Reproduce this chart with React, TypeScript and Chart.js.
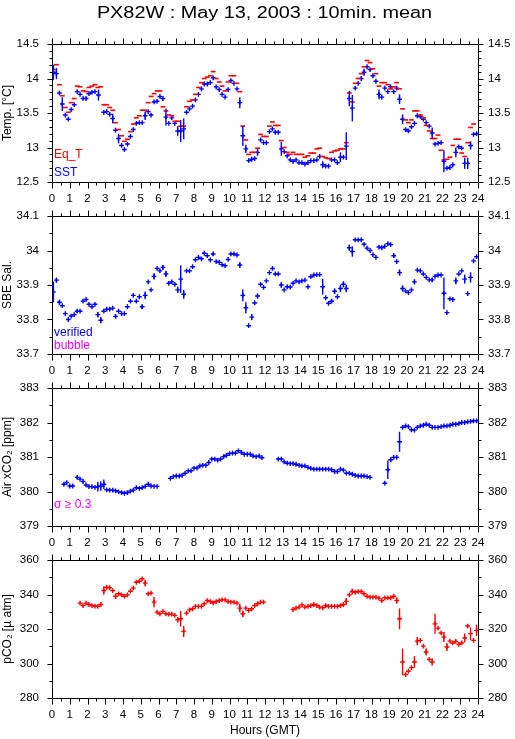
import React, { useEffect, useRef } from 'react';
import { Chart, registerables } from 'chart.js';

Chart.register(...registerables);

const FONT = "'Liberation Sans', Arial, Helvetica, sans-serif";
const RED = '#ff0000';
const BLUE = '#0000ff';
const MAGENTA = '#ff00ff';

const pageTitle = 'PX82W : May 13, 2003 : 10min. mean';
const xTitle = 'Hours (GMT)';
const hourTicks = [0, 1, 2, 3, 4, 5, 6, 7, 8, 9, 10, 11, 12, 13, 14, 15, 16, 17, 18, 19, 20, 21, 22, 23, 24];

const tempTicks = [12.5, 13, 13.5, 14, 14.5];
const salTicks = [33.7, 33.8, 33.9, 34, 34.1];
const xco2Ticks = [379, 380, 381, 382, 383];
const pco2Ticks = [280, 300, 320, 340, 360];

// [hour, value]
const eqT = [
  [0.08, 14.13], [0.25, 14.2], [0.42, 13.91], [0.58, 13.75], [0.75, 13.58], [0.92, 13.51], [1.08, 13.65], [1.25, 13.71],
  [1.42, 13.89], [1.58, 13.88], [1.75, 13.82], [1.92, 13.81], [2.08, 13.87], [2.25, 13.89], [2.42, 13.91], [2.58, 13.87],
  [2.75, 13.88], [2.92, 13.62], [3.08, 13.62], [3.25, 13.58], [3.42, 13.54], [3.58, 13.36], [3.75, 13.26], [3.92, 13.17],
  [4.08, 13.09], [4.25, 13.12], [4.42, 13.23], [4.58, 13.34], [4.75, 13.43], [4.92, 13.46], [5.08, 13.54], [5.25, 13.54],
  [5.42, 13.65], [5.58, 13.74], [5.75, 13.78], [5.92, 13.82], [6.08, 13.82], [6.25, 13.59], [6.42, 13.53], [6.58, 13.47],
  [6.75, 13.46], [6.92, 13.38], [7.08, 13.38], [7.25, 13.31], [7.42, 13.31], [7.58, 13.59], [7.75, 13.67], [7.92, 13.69],
  [8.08, 13.77], [8.25, 13.87], [8.42, 13.94], [8.58, 14.0], [8.75, 14.02], [8.92, 14.04], [9.08, 14.1], [9.25, 14.0],
  [9.42, 13.95], [9.58, 13.89], [9.75, 13.82], [9.92, 13.95], [10.08, 14.04], [10.25, 14.04], [10.42, 13.93], [10.58, 13.81],
  [10.75, 13.31], [10.92, 13.11], [11.08, 12.9], [11.25, 12.93], [11.42, 12.93], [11.58, 12.99], [11.75, 13.19], [11.92, 13.16],
  [12.08, 13.16], [12.25, 13.31], [12.42, 13.37], [12.58, 13.32], [12.75, 13.32], [12.92, 13.1], [13.08, 13.0], [13.25, 12.93],
  [13.42, 12.9], [13.58, 12.93], [13.75, 12.9], [13.92, 12.9], [14.08, 12.9], [14.25, 12.86], [14.42, 12.88], [14.58, 12.92],
  [14.75, 12.92], [14.92, 12.98], [15.08, 12.99], [15.25, 12.87], [15.42, 12.85], [15.58, 12.84], [15.75, 12.93], [15.92, 12.95],
  [16.08, 12.96], [16.25, 12.98], [16.42, 12.98], [16.58, 13.07], [16.75, 13.79], [16.92, 13.66], [17.08, 13.93], [17.25, 14.0],
  [17.42, 14.07], [17.58, 14.17], [17.75, 14.26], [17.92, 14.23], [18.08, 14.14], [18.25, 14.07], [18.42, 13.89], [18.58, 13.94],
  [18.75, 13.94], [18.92, 13.91], [19.08, 13.85], [19.25, 13.88], [19.42, 13.94], [19.58, 13.85], [19.75, 13.56], [19.92, 13.4],
  [20.08, 13.36], [20.25, 13.4], [20.42, 13.53], [20.58, 13.53], [20.75, 13.47], [20.92, 13.43], [21.08, 13.32], [21.25, 13.24],
  [21.42, 13.13], [21.58, 13.13], [21.75, 13.18], [21.92, 12.96], [22.08, 12.82], [22.25, 12.83], [22.42, 12.86], [22.58, 13.03],
  [22.75, 13.12], [22.92, 13.12], [23.08, 12.92], [23.25, 12.87], [23.42, 13.07], [23.58, 13.29], [23.75, 13.34],
];

// [hour, value, std]
const sst = [
  [0.08, 14.09, 0.11], [0.25, 14.07, 0.08], [0.42, 13.79, 0], [0.58, 13.63, 0.1], [0.75, 13.47, 0], [0.92, 13.41, 0],
  [1.08, 13.55, 0], [1.25, 13.62, 0], [1.42, 13.81, 0], [1.58, 13.77, 0], [1.75, 13.71, 0], [1.92, 13.71, 0],
  [2.08, 13.78, 0], [2.25, 13.8, 0], [2.42, 13.81, 0], [2.62, 13.76, 0.08], [2.92, 13.51, 0], [3.08, 13.52, 0],
  [3.25, 13.48, 0], [3.42, 13.42, 0.07], [3.58, 13.25, 0], [3.75, 13.13, 0.07], [3.92, 13.03, 0], [4.08, 12.97, 0],
  [4.25, 13.05, 0], [4.42, 13.16, 0], [4.58, 13.26, 0], [4.75, 13.35, 0], [4.92, 13.36, 0], [5.08, 13.36, 0],
  [5.25, 13.46, 0.06], [5.42, 13.52, 0], [5.58, 13.47, 0], [5.75, 13.66, 0], [5.92, 13.67, 0], [6.08, 13.74, 0],
  [6.25, 13.71, 0], [6.42, 13.44, 0.12], [6.58, 13.35, 0], [6.75, 13.43, 0], [6.92, 13.35, 0], [7.08, 13.24, 0.07],
  [7.25, 13.24, 0.16], [7.42, 13.27, 0.15], [7.58, 13.51, 0], [7.75, 13.56, 0], [7.92, 13.6, 0], [8.08, 13.69, 0],
  [8.25, 13.77, 0], [8.42, 13.85, 0], [8.58, 13.92, 0], [8.75, 13.92, 0], [8.92, 13.94, 0], [9.08, 14.01, 0],
  [9.25, 13.88, 0], [9.42, 13.84, 0], [9.58, 13.77, 0], [9.75, 13.73, 0], [9.92, 13.84, 0], [10.08, 13.97, 0],
  [10.25, 13.93, 0], [10.42, 13.85, 0], [10.58, 13.65, 0.08], [10.75, 13.17, 0.15], [10.92, 12.98, 0.06], [11.08, 12.81, 0],
  [11.25, 12.83, 0], [11.42, 12.84, 0], [11.58, 12.93, 0.05], [11.75, 13.11, 0], [11.92, 13.07, 0], [12.08, 13.07, 0],
  [12.25, 13.23, 0], [12.42, 13.27, 0], [12.58, 13.22, 0], [12.75, 13.22, 0], [12.92, 12.98, 0.1], [13.08, 12.94, 0],
  [13.25, 12.88, 0], [13.42, 12.82, 0], [13.58, 12.8, 0], [13.75, 12.82, 0], [13.92, 12.78, 0], [14.08, 12.78, 0],
  [14.25, 12.76, 0], [14.42, 12.78, 0], [14.58, 12.81, 0], [14.75, 12.81, 0], [14.92, 12.82, 0], [15.08, 12.87, 0],
  [15.25, 12.75, 0.05], [15.42, 12.73, 0], [15.58, 12.73, 0], [15.75, 12.82, 0], [15.92, 12.82, 0], [16.08, 12.78, 0],
  [16.25, 12.86, 0.07], [16.42, 12.86, 0], [16.58, 13.02, 0.2], [16.75, 13.71, 0.11], [16.92, 13.57, 0.19], [17.08, 13.86, 0],
  [17.25, 13.93, 0], [17.42, 14.0, 0], [17.58, 14.09, 0.05], [17.75, 14.17, 0], [17.92, 14.13, 0], [18.08, 14.04, 0],
  [18.25, 13.96, 0], [18.42, 13.77, 0.07], [18.58, 13.73, 0], [18.75, 13.86, 0], [18.92, 13.81, 0], [19.08, 13.88, 0],
  [19.25, 13.81, 0], [19.42, 13.86, 0], [19.58, 13.7, 0.07], [19.75, 13.41, 0.07], [19.92, 13.26, 0], [20.08, 13.24, 0],
  [20.25, 13.3, 0], [20.42, 13.35, 0], [20.58, 13.46, 0], [20.75, 13.45, 0], [20.92, 13.41, 0], [21.08, 13.36, 0],
  [21.25, 13.31, 0], [21.42, 13.21, 0.08], [21.58, 13.05, 0], [21.75, 13.06, 0], [21.92, 13.07, 0], [22.08, 12.8, 0.16],
  [22.25, 12.7, 0], [22.42, 12.71, 0], [22.58, 12.75, 0], [22.75, 12.93, 0.07], [22.92, 13.01, 0], [23.08, 12.99, 0],
  [23.25, 12.77, 0.08], [23.42, 12.77, 0.08], [23.58, 13.03, 0.06], [23.75, 13.19, 0], [23.92, 13.2, 0],
];

const salinity = [
  [0.08, 33.88, 0.03], [0.25, 33.914, 0.007], [0.42, 33.85, 0.007], [0.58, 33.84, 0], [0.75, 33.817, 0], [0.92, 33.8, 0],
  [1.08, 33.81, 0], [1.25, 33.814, 0], [1.42, 33.824, 0.005], [1.58, 33.824, 0], [1.75, 33.853, 0], [1.92, 33.858, 0],
  [2.08, 33.844, 0], [2.25, 33.837, 0], [2.42, 33.844, 0], [2.58, 33.814, 0.008], [2.75, 33.798, 0.009], [2.92, 33.824, 0],
  [3.08, 33.83, 0], [3.25, 33.83, 0], [3.42, 33.833, 0], [3.58, 33.809, 0.006], [3.75, 33.824, 0], [3.92, 33.817, 0],
  [4.08, 33.817, 0], [4.25, 33.837, 0], [4.42, 33.853, 0], [4.58, 33.87, 0], [4.75, 33.853, 0], [4.92, 33.866, 0],
  [5.08, 33.837, 0.006], [5.25, 33.87, 0.011], [5.42, 33.909, 0], [5.58, 33.886, 0], [5.75, 33.925, 0.009], [5.92, 33.948, 0],
  [6.08, 33.941, 0], [6.25, 33.951, 0.006], [6.42, 33.932, 0.009], [6.58, 33.905, 0], [6.75, 33.909, 0], [6.92, 33.902, 0],
  [7.08, 33.886, 0.009], [7.25, 33.917, 0.04], [7.42, 33.873, 0.013], [7.58, 33.941, 0], [7.75, 33.941, 0], [7.92, 33.953, 0],
  [8.08, 33.973, 0], [8.25, 33.98, 0], [8.42, 33.976, 0], [8.58, 33.992, 0], [8.75, 33.985, 0], [8.92, 33.973, 0],
  [9.08, 33.99, 0.006], [9.25, 33.968, 0], [9.42, 33.966, 0], [9.58, 33.959, 0], [9.75, 33.956, 0], [9.92, 33.974, 0],
  [10.08, 33.99, 0], [10.25, 33.99, 0], [10.42, 33.987, 0], [10.58, 33.958, 0.008], [10.75, 33.87, 0.017], [10.92, 33.834, 0.016],
  [11.08, 33.782, 0], [11.25, 33.807, 0.009], [11.42, 33.848, 0], [11.58, 33.868, 0.007], [11.75, 33.902, 0], [11.92, 33.893, 0],
  [12.08, 33.912, 0], [12.25, 33.936, 0], [12.42, 33.948, 0], [12.58, 33.932, 0], [12.75, 33.932, 0], [12.92, 33.9, 0.008],
  [13.08, 33.886, 0], [13.25, 33.895, 0], [13.42, 33.894, 0], [13.58, 33.905, 0], [13.75, 33.912, 0], [13.92, 33.909, 0],
  [14.08, 33.912, 0], [14.25, 33.914, 0], [14.42, 33.895, 0], [14.58, 33.924, 0], [14.75, 33.929, 0], [14.92, 33.93, 0],
  [15.08, 33.93, 0], [15.25, 33.895, 0.023], [15.42, 33.863, 0], [15.58, 33.847, 0], [15.75, 33.853, 0.006], [15.92, 33.882, 0.008],
  [16.08, 33.866, 0], [16.25, 33.89, 0.011], [16.42, 33.902, 0.009], [16.58, 33.89, 0.011], [16.75, 34.008, 0.009], [16.92, 33.997, 0.015],
  [17.08, 34.031, 0], [17.25, 34.031, 0], [17.42, 34.031, 0], [17.58, 34.018, 0], [17.75, 34.007, 0], [17.92, 34.0, 0],
  [18.08, 33.988, 0], [18.25, 33.98, 0], [18.42, 34.01, 0], [18.58, 34.008, 0], [18.75, 34.012, 0], [18.92, 34.02, 0],
  [19.08, 34.017, 0], [19.25, 33.985, 0.007], [19.42, 33.968, 0], [19.58, 33.936, 0.009], [19.75, 33.89, 0.009], [19.92, 33.883, 0],
  [20.08, 33.878, 0], [20.25, 33.886, 0], [20.42, 33.909, 0.007], [20.58, 33.943, 0], [20.75, 33.941, 0], [20.92, 33.932, 0],
  [21.08, 33.922, 0], [21.25, 33.915, 0], [21.42, 33.915, 0.006], [21.58, 33.925, 0], [21.75, 33.929, 0], [21.92, 33.929, 0],
  [22.08, 33.876, 0.046], [22.25, 33.82, 0], [22.42, 33.86, 0], [22.58, 33.858, 0], [22.75, 33.912, 0.01], [22.92, 33.932, 0],
  [23.08, 33.941, 0], [23.25, 33.917, 0.013], [23.42, 33.875, 0], [23.58, 33.922, 0.015], [23.75, 33.97, 0], [23.92, 33.982, 0],
];

const airXco2 = [
  [0.67, 380.21, 0], [0.83, 380.26, 0], [1.0, 380.16, 0], [1.17, 380.16, 0], [1.42, 380.41, 0.04], [1.58, 380.36, 0],
  [1.75, 380.29, 0], [1.92, 380.19, 0], [2.08, 380.14, 0], [2.25, 380.14, 0], [2.42, 380.12, 0], [2.58, 380.14, 0.14],
  [2.75, 380.16, 0.14], [2.92, 380.21, 0.14], [3.08, 380.05, 0], [3.25, 380.04, 0], [3.42, 380.04, 0], [3.58, 380.02, 0],
  [3.75, 379.99, 0], [3.92, 379.97, 0], [4.08, 379.95, 0], [4.25, 379.97, 0], [4.42, 380.01, 0], [4.58, 380.04, 0],
  [4.75, 380.11, 0], [4.92, 380.09, 0], [5.08, 380.11, 0], [5.25, 380.15, 0], [5.42, 380.21, 0], [5.58, 380.16, 0],
  [5.75, 380.15, 0], [5.92, 380.15, 0],
  [6.67, 380.38, 0], [6.83, 380.43, 0], [7.0, 380.45, 0], [7.17, 380.45, 0], [7.33, 380.47, 0], [7.5, 380.53, 0],
  [7.67, 380.6, 0], [7.83, 380.6, 0], [8.0, 380.68, 0], [8.17, 380.68, 0], [8.33, 380.74, 0], [8.5, 380.76, 0],
  [8.67, 380.76, 0], [8.83, 380.84, 0], [9.0, 380.94, 0], [9.17, 380.94, 0], [9.33, 380.91, 0], [9.5, 380.94, 0],
  [9.67, 381.01, 0], [9.83, 381.05, 0], [10.0, 381.1, 0], [10.17, 381.11, 0], [10.33, 381.11, 0], [10.5, 381.18, 0],
  [10.67, 381.13, 0], [10.83, 381.08, 0], [11.0, 381.08, 0], [11.17, 381.08, 0], [11.33, 381.03, 0], [11.5, 381.01, 0],
  [11.67, 381.03, 0], [11.83, 380.98, 0],
  [12.75, 380.94, 0], [12.92, 380.94, 0], [13.08, 380.86, 0], [13.25, 380.82, 0], [13.42, 380.81, 0], [13.58, 380.81, 0],
  [13.75, 380.79, 0], [13.92, 380.76, 0], [14.08, 380.74, 0], [14.25, 380.74, 0], [14.42, 380.7, 0], [14.58, 380.67, 0],
  [14.75, 380.65, 0], [14.92, 380.65, 0], [15.08, 380.65, 0], [15.25, 380.65, 0], [15.42, 380.65, 0], [15.58, 380.65, 0],
  [15.75, 380.63, 0], [15.92, 380.58, 0], [16.08, 380.58, 0], [16.25, 380.65, 0], [16.42, 380.62, 0], [16.58, 380.53, 0],
  [16.75, 380.53, 0], [16.92, 380.5, 0], [17.08, 380.47, 0], [17.25, 380.45, 0], [17.42, 380.45, 0], [17.58, 380.45, 0],
  [17.75, 380.43, 0], [17.92, 380.41, 0],
  [18.75, 380.24, 0], [18.92, 380.63, 0.27], [19.08, 380.92, 0.06], [19.25, 380.99, 0], [19.42, 380.99, 0], [19.58, 381.44, 0.29],
  [19.75, 381.86, 0.05], [19.92, 381.9, 0], [20.08, 381.88, 0], [20.25, 381.79, 0], [20.42, 381.78, 0], [20.58, 381.86, 0],
  [20.75, 381.9, 0], [20.92, 381.92, 0], [21.08, 381.95, 0], [21.25, 381.92, 0], [21.42, 381.86, 0], [21.58, 381.86, 0],
  [21.75, 381.86, 0], [21.92, 381.88, 0], [22.08, 381.9, 0], [22.25, 381.9, 0], [22.42, 381.92, 0], [22.58, 381.95, 0],
  [22.75, 381.95, 0], [22.92, 381.97, 0], [23.08, 382.0, 0], [23.25, 382.0, 0], [23.42, 382.02, 0], [23.58, 382.03, 0],
  [23.75, 382.05, 0], [23.92, 382.05, 0],
];

const pco2 = [
  [1.58, 335.0, 0], [1.75, 333.6, 0], [1.92, 335.0, 0], [2.08, 334.2, 0], [2.25, 333.6, 0], [2.42, 333.3, 0],
  [2.58, 333.1, 0], [2.75, 334.2, 0], [2.92, 342.3, 2.5], [3.08, 344.2, 0], [3.25, 343.9, 0], [3.42, 342.3, 0],
  [3.58, 339.0, 1.6], [3.75, 340.4, 0], [3.92, 339.8, 0], [4.08, 339.0, 0], [4.25, 339.8, 0], [4.42, 341.9, 0],
  [4.58, 343.7, 0], [4.75, 347.1, 0], [4.92, 347.7, 0], [5.08, 349.1, 0], [5.25, 346.6, 1.9], [5.42, 340.4, 0],
  [5.58, 340.8, 0], [5.75, 335.6, 3.0], [5.92, 329.8, 0], [6.08, 328.8, 0], [6.25, 330.2, 0], [6.42, 328.8, 0],
  [6.58, 328.6, 0], [6.75, 328.6, 0], [6.92, 327.9, 0], [7.08, 325.4, 1.7], [7.25, 325.9, 4.5], [7.42, 318.6, 3.2],
  [7.58, 329.2, 0], [7.75, 331.1, 0], [7.92, 331.7, 0], [8.08, 333.1, 0], [8.25, 333.1, 0], [8.42, 333.1, 0],
  [8.58, 334.6, 0], [8.75, 336.5, 0], [8.92, 335.9, 0], [9.08, 335.2, 0], [9.25, 335.9, 0], [9.42, 336.5, 0],
  [9.58, 336.9, 0], [9.75, 336.9, 0], [9.92, 335.9, 0], [10.08, 335.6, 0], [10.25, 335.6, 0], [10.42, 335.0, 0],
  [10.58, 332.1, 2.4], [10.75, 328.8, 1.9], [10.92, 332.1, 0], [11.08, 330.8, 0], [11.25, 331.7, 0], [11.42, 333.6, 0],
  [11.58, 334.6, 0], [11.75, 335.6, 0], [11.92, 335.6, 0],
  [13.58, 331.3, 0], [13.75, 332.1, 0], [13.92, 332.7, 0], [14.08, 334.0, 0], [14.25, 332.7, 0], [14.42, 333.1, 0],
  [14.58, 333.6, 0], [14.75, 334.2, 0], [14.92, 333.6, 0], [15.08, 332.7, 0], [15.25, 332.3, 0], [15.42, 333.6, 0],
  [15.58, 333.1, 0], [15.75, 333.1, 0], [15.92, 333.1, 0], [16.08, 333.1, 0], [16.25, 333.6, 0], [16.42, 334.2, 0],
  [16.58, 336.0, 1.9], [16.75, 339.8, 0], [16.92, 341.7, 1.7], [17.08, 341.3, 0], [17.25, 341.7, 0], [17.42, 341.7, 0],
  [17.58, 340.4, 0], [17.75, 339.0, 0], [17.92, 338.5, 0], [18.08, 338.5, 0], [18.25, 338.5, 0], [18.42, 337.9, 0],
  [18.58, 336.5, 0], [18.75, 338.1, 0], [18.92, 338.1, 0], [19.08, 338.1, 0], [19.25, 339.0, 0], [19.42, 336.5, 1.9],
  [19.58, 325.9, 6.0], [19.75, 300.9, 7.7], [19.92, 293.6, 0], [20.08, 295.5, 0], [20.25, 297.6, 0], [20.42, 300.9, 3.4],
  [20.58, 313.0, 2.4], [20.75, 313.4, 0], [20.92, 310.1, 0], [21.08, 306.7, 2.1], [21.25, 302.4, 0], [21.42, 300.9, 2.1],
  [21.58, 323.0, 5.8], [21.75, 320.5, 0], [21.92, 317.7, 0], [22.08, 315.3, 2.9], [22.25, 309.6, 2.3], [22.42, 313.0, 0],
  [22.58, 311.9, 0], [22.75, 312.8, 0], [22.92, 311.1, 0], [23.08, 311.9, 0], [23.25, 314.8, 2.6], [23.42, 321.7, 0],
  [23.58, 317.3, 3.6], [23.75, 313.4, 0], [23.92, 319.2, 3.3],
];

// ---- layout (pixels) ----
const W = 515;
const PLOT_LEFT = 52;
const PLOT_RIGHT = 478;
const PLOT_TOP = 44;
const PLOT_BOTTOM = 182;
const PANEL_STEP = 172;

const tickFont = { family: FONT, size: 11.5 };
const titleFont = { family: FONT, size: 12, lineHeight: 1 };

const fmt = (v: number) => String(Number(v.toFixed(2)));

const pageTitlePlugin = {
  id: 'pageTitle',
  afterDraw(chart: any, _a: any, opts: any) {
    if (!opts || !opts.text) return;
    const ctx = chart.ctx;
    ctx.save();
    ctx.font = `16px ${FONT}`;
    ctx.fillStyle = '#000';
    ctx.textAlign = 'center';
    ctx.textBaseline = 'alphabetic';
    ctx.translate(264.5, 17.5);
    ctx.scale(1.24, 1);
    ctx.fillText(opts.text, 0, 0);
    ctx.restore();
  },
};

const frameTicksPlugin = {
  id: 'frameTicks',
  afterDraw(chart: any, _a: any, opts: any) {
    const { ctx, chartArea, scales } = chart;
    const { left, right, top, bottom } = chartArea;
    const xs = scales.x;
    const ys = scales.y;
    ctx.save();
    ctx.strokeStyle = '#000';
    ctx.lineWidth = 1;
    const seg = (x1: number, y1: number, x2: number, y2: number) => {
      ctx.beginPath();
      ctx.moveTo(x1, y1);
      ctx.lineTo(x2, y2);
      ctx.stroke();
    };
    // frame
    seg(left + 0.5, top + 0.5, right + 0.5, top + 0.5);
    seg(left + 0.5, bottom + 0.5, right + 0.5, bottom + 0.5);
    seg(left + 0.5, top, left + 0.5, bottom + 1);
    seg(right + 0.5, top, right + 0.5, bottom + 1);
    // x ticks (hour major, half hour minor)
    for (let k = 0; k <= 48; k++) {
      const px = Math.round(xs.getPixelForValue(k / 2)) + 0.5;
      const L = k % 2 === 0 ? 6 : 3;
      seg(px, bottom + 0.5, px, bottom + 0.5 + L);
      seg(px, top + 0.5, px, top + 0.5 - L);
    }
    // y ticks
    const majors: number[] = opts.majors;
    const step: number = opts.minor;
    const n = Math.round((ys.max - ys.min) / step);
    for (let k = 0; k <= n; k++) {
      const v = ys.min + k * step;
      const isMajor = majors.some((m) => Math.abs(m - v) < step / 10);
      const py = Math.round(ys.getPixelForValue(v)) + 0.5;
      const L = isMajor ? 5 : 3;
      seg(left + 0.5, py, left + 0.5 - L, py);
      seg(right + 0.5, py, right + 0.5 + L, py);
    }
    ctx.restore();
  },
};

const errorBarsPlugin = {
  id: 'errorBars',
  afterDatasetsDraw(chart: any) {
    const { ctx, scales } = chart;
    const xs = scales.x;
    const ys = scales.y;
    ctx.save();
    ctx.beginPath();
    ctx.rect(chart.chartArea.left, chart.chartArea.top, chart.chartArea.right - chart.chartArea.left, chart.chartArea.bottom - chart.chartArea.top);
    ctx.clip();
    chart.data.datasets.forEach((ds: any) => {
      if (!ds.withErrors) return;
      ctx.strokeStyle = ds.pointBorderColor;
      ctx.lineWidth = ds.pointBorderWidth;
      ds.data.forEach((p: any) => {
        if (!p.e) return;
        const x = xs.getPixelForValue(p.x);
        ctx.beginPath();
        ctx.moveTo(x, ys.getPixelForValue(p.y - p.e));
        ctx.lineTo(x, ys.getPixelForValue(p.y + p.e));
        ctx.stroke();
      });
    });
    ctx.restore();
  },
};

const notesPlugin = {
  id: 'panelNotes',
  afterDraw(chart: any, _a: any, opts: any) {
    if (!opts || !opts.items) return;
    const { ctx, chartArea } = chart;
    ctx.save();
    ctx.font = `12px ${FONT}`;
    ctx.textAlign = 'left';
    ctx.textBaseline = 'alphabetic';
    opts.items.forEach((it: any) => {
      ctx.fillStyle = it.color;
      ctx.fillText(it.text, chartArea.left + 2, chartArea.top + it.dy);
    });
    ctx.restore();
  },
};

type Series = { label: string; rows: number[][]; color: string; style: 'line' | 'cross' };

interface Panel {
  yTitle: string;
  yTicks: number[];
  yMinor: number;
  series: Series[];
  notes: { text: string; color: string; dy: number }[];
}

const panels: Panel[] = [
  {
    yTitle: 'Temp. [°C]',
    yTicks: tempTicks,
    yMinor: 0.1,
    series: [
      { label: 'Eq_T', rows: eqT, color: RED, style: 'line' },
      { label: 'SST', rows: sst, color: BLUE, style: 'cross' },
    ],
    notes: [
      { text: 'Eq_T', color: RED, dy: 114 },
      { text: 'SST', color: BLUE, dy: 132 },
    ],
  },
  {
    yTitle: 'SBE Sal.',
    yTicks: salTicks,
    yMinor: 0.05,
    series: [{ label: 'verified', rows: salinity, color: BLUE, style: 'cross' }],
    notes: [
      { text: 'verified', color: BLUE, dy: 120 },
      { text: 'bubble', color: MAGENTA, dy: 133 },
    ],
  },
  {
    yTitle: 'Air xCO₂ [ppm]',
    yTicks: xco2Ticks,
    yMinor: 0.5,
    series: [{ label: 'Air xCO2', rows: airXco2, color: BLUE, style: 'cross' }],
    notes: [{ text: 'σ ≥ 0.3', color: MAGENTA, dy: 120 }],
  },
  {
    yTitle: 'pCO₂ [µ atm]',
    yTicks: pco2Ticks,
    yMinor: 10,
    series: [{ label: 'pCO2', rows: pco2, color: RED, style: 'cross' }],
    notes: [],
  },
];

function buildConfig(p: Panel, index: number, canvasH: number): any {
  const last = index === panels.length - 1;
  const yMin = p.yTicks[0];
  const yMax = p.yTicks[p.yTicks.length - 1];
  const setTicks = (vals: number[]) => (s: any) => {
    s.ticks = vals.map((v) => ({ value: v }));
  };
  const datasets = p.series.map((s) => ({
    label: s.label,
    data: s.rows.map((r) => ({ x: r[0], y: r[1], e: r[2] || 0 })),
    withErrors: s.style === 'cross',
    pointStyle: s.style,
    pointRadius: 2.4,
    pointBorderWidth: s.style === 'line' ? 1.6 : 1.4,
    pointBorderColor: s.color,
    pointBackgroundColor: s.color,
    borderColor: s.color,
    backgroundColor: s.color,
    showLine: false,
  }));
  return {
    type: 'scatter',
    data: { datasets },
    options: {
      animation: false,
      responsive: false,
      maintainAspectRatio: false,
      events: [],
      layout: { padding: 0 },
      plugins: {
        legend: { display: false },
        tooltip: { enabled: false },
        title: { display: false },
        pageTitle: { text: index === 0 ? pageTitle : '' },
        frameTicks: { majors: p.yTicks, minor: p.yMinor },
        panelNotes: { items: p.notes },
      },
      scales: {
        x: {
          type: 'linear',
          position: 'bottom',
          min: 0,
          max: 24,
          afterBuildTicks: setTicks(hourTicks),
          afterFit: (s: any) => {
            s.height = canvasH - PLOT_BOTTOM;
          },
          ticks: { autoSkip: false, maxRotation: 0, padding: 10, color: '#000', font: tickFont, callback: (v: number) => fmt(v) },
          grid: { display: false, drawTicks: false },
          border: { display: false },
          title: last
            ? { display: true, text: xTitle, color: '#000', font: titleFont, padding: { top: 0, bottom: 2 } }
            : { display: false },
        },
        x2: {
          type: 'linear',
          position: 'top',
          min: 0,
          max: 24,
          afterFit: (s: any) => {
            s.height = PLOT_TOP;
          },
          ticks: { display: false },
          grid: { display: false, drawTicks: false },
          border: { display: false },
        },
        y: {
          type: 'linear',
          position: 'left',
          min: yMin,
          max: yMax,
          afterBuildTicks: setTicks(p.yTicks),
          afterFit: (s: any) => {
            s.width = PLOT_LEFT;
          },
          ticks: { autoSkip: false, padding: 13, color: '#000', font: tickFont, callback: (v: number) => fmt(v) },
          grid: { display: false, drawTicks: false },
          border: { display: false },
          title: { display: true, text: p.yTitle, color: '#000', font: titleFont, padding: { top: 2, bottom: 0 } },
        },
        y2: {
          type: 'linear',
          position: 'right',
          min: yMin,
          max: yMax,
          afterBuildTicks: setTicks(p.yTicks),
          afterFit: (s: any) => {
            s.width = W - PLOT_RIGHT;
          },
          ticks: { autoSkip: false, padding: 10, color: '#000', font: tickFont, callback: (v: number) => fmt(v) },
          grid: { display: false, drawTicks: false },
          border: { display: false },
        },
      },
    },
    plugins: [pageTitlePlugin, errorBarsPlugin, frameTicksPlugin, notesPlugin],
  };
}

function PanelChart({ panel, index }: { panel: Panel; index: number }) {
  const ref = useRef<HTMLCanvasElement | null>(null);
  const last = index === panels.length - 1;
  const top = index * PANEL_STEP;
  const h = last ? 739 - top : 210;
  useEffect(() => {
    const chart = new Chart(ref.current as HTMLCanvasElement, buildConfig(panel, index, h));
    return () => chart.destroy();
  }, []);
  return (
    <canvas
      ref={ref}
      width={W}
      height={h}
      style={{ position: 'absolute', left: 0, top, width: W, height: h }}
    />
  );
}

export default function App() {
  return (
    <div style={{ position: 'absolute', left: 0, top: 0, width: W, height: 739, background: '#fff', overflow: 'hidden' }}>
      {panels.map((p, i) => (
        <PanelChart key={i} panel={p} index={i} />
      ))}
    </div>
  );
}
